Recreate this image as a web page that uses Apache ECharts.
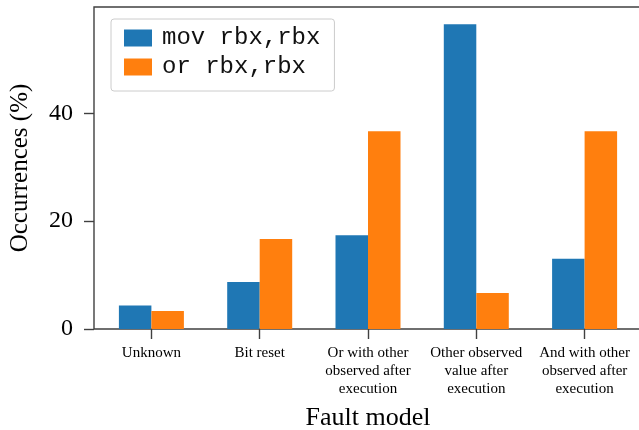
<!DOCTYPE html>
<html>
<head>
<meta charset="utf-8">
<script src="https://cdn.jsdelivr.net/npm/echarts@6/dist/echarts.min.js"></script>
<style>
  html, body { margin: 0; padding: 0; background: #fff; }
</style>
</head>
<body>
<div id="chart_faults" style="width:639px; height:430px"></div>
<script>
var categories = [
  "Unknown",
  "Bit reset",
  "Or with other\nobserved after\nexecution",
  "Other observed\nvalue after\nexecution",
  "And with other\nobserved after\nexecution"
];
var movValues = [4.35, 8.70, 17.39, 56.52, 13.04];
var orValues = [3.33, 16.67, 36.67, 6.67, 36.67];
var yTicks = [0, 20, 40];
var xTicks = [0, 1, 2, 3, 4];

function toPoints(values) {
  return values.map(function(v, i) {
    return [i, v];
  });
}

var myChart = echarts.init(document.getElementById("chart_faults"));
var axisColor = "#404040";
myChart.setOption({
  animation: false,
  grid: {
    left: 94,
    top: 7,
    width: 548,
    height: 322,
    outerBoundsMode: "none",
    containLabel: false,
    show: true,
    borderColor: axisColor,
    borderWidth: 1.4
  },
  legend: {
    orient: "vertical",
    left: 111,
    top: 19,
    padding: [7, 14, 12, 13],
    icon: "rect",
    itemWidth: 28,
    itemHeight: 17,
    itemGap: 5,
    borderColor: "#cccccc",
    borderWidth: 1,
    borderRadius: 3,
    backgroundColor: "#ffffff",
    textStyle: {
      fontFamily: "Liberation Mono",
      fontSize: 24,
      color: "#111",
      padding: [0, 0, 0, 5]
    },
    data: ["mov rbx,rbx", "or rbx,rbx"]
  },
  xAxis: {
    type: "value",
    min: -0.53,
    max: 4.53,
    splitLine: { show: false },
    axisLine: { show: false, onZero: false },
    axisTick: {
      show: true,
      length: 10,
      customValues: xTicks,
      lineStyle: { color: axisColor, width: 1.4 }
    },
    axisLabel: {
      customValues: xTicks,
      margin: 15,
      fontFamily: "Liberation Serif",
      fontSize: 15,
      lineHeight: 18,
      color: "#000",
      formatter: function(val) {
        return categories[Math.round(val)];
      }
    },
    name: "Fault model",
    nameLocation: "middle",
    nameGap: 76,
    nameTextStyle: {
      fontFamily: "Liberation Serif",
      fontSize: 26,
      color: "#000"
    }
  },
  yAxis: {
    type: "value",
    min: 0,
    max: 59.7,
    splitLine: { show: false },
    axisLine: { show: false, onZero: false },
    axisTick: {
      show: true,
      length: 10,
      customValues: yTicks,
      lineStyle: { color: axisColor, width: 1.4 }
    },
    axisLabel: {
      customValues: yTicks,
      margin: 21,
      fontFamily: "Liberation Serif",
      fontSize: 24,
      color: "#000"
    },
    name: "Occurrences (%)",
    nameLocation: "middle",
    nameGap: 61,
    nameTextStyle: {
      fontFamily: "Liberation Serif",
      fontSize: 25,
      color: "#000"
    }
  },
  series: [
    {
      name: "mov rbx,rbx",
      type: "bar",
      barWidth: 32.5,
      barGap: "0%",
      itemStyle: { color: "#1f77b4" },
      data: toPoints(movValues)
    },
    {
      name: "or rbx,rbx",
      type: "bar",
      barWidth: 32.5,
      barGap: "0%",
      itemStyle: { color: "#ff7f0e" },
      data: toPoints(orValues)
    }
  ]
});
</script>
</body>
</html>
